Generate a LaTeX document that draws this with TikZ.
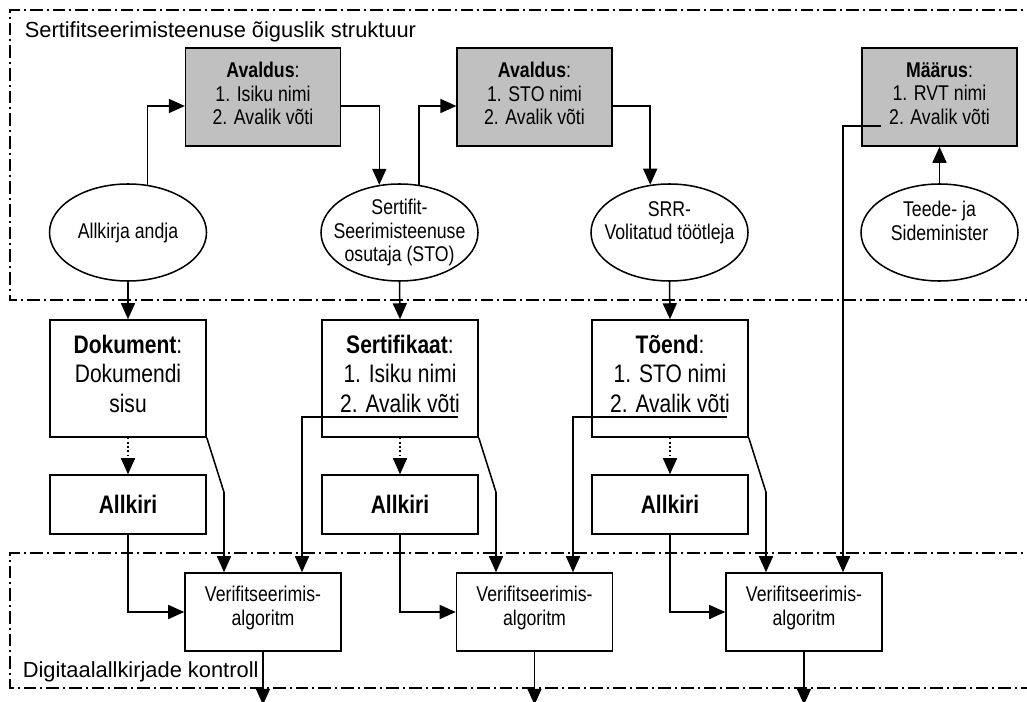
\documentclass[tikz,border=0pt]{standalone}
\usepackage{fontspec}
\setmainfont{Liberation Sans}
\newfontfamily\cf[FakeStretch=0.83]{Liberation Sans}
\usetikzlibrary{arrows.meta,shapes.geometric,calc}
\definecolor{boxgray}{RGB}{192,192,192}
\begin{document}
\begin{tikzpicture}[x=0.75pt,y=-0.75pt,line width=1.15pt,
 arr/.style={-{Triangle[length=12pt,width=10.5pt]}},
 frameline/.style={dash pattern=on 9.5pt off 3pt on 1.5pt off 3pt},
 small/.style={font=\cf\fontsize{16}{17.5}\selectfont},
 gbox/.style={draw,fill=boxgray,minimum width=116pt,minimum height=73.5pt,inner sep=0pt},
 ell/.style={draw,ellipse,minimum width=117.75pt,minimum height=72.75pt,inner sep=0pt},
 ellt/.style={align=center,small,inner sep=0pt},
 gtext/.style={align=center,small,inner sep=0pt,yshift=2.5pt},
 dbox/.style={draw,minimum width=117pt,minimum height=87.75pt,inner sep=0pt},
 dtext/.style={align=center,inner sep=0pt,yshift=3.5pt,font=\cf\fontsize{19}{22}\selectfont},
 abox/.style={draw,minimum width=117pt,minimum height=44.25pt,inner sep=1pt,font=\cf\bfseries\fontsize{19}{22}\selectfont},
 vbox/.style={draw,minimum width=117pt,minimum height=58.5pt,inner sep=0pt},
 vtext/.style={align=center,small,inner sep=0pt,yshift=3pt},
 lab/.style={font=\fontsize{16.4}{19}\selectfont,inner sep=0pt,anchor=base west},
]
\useasboundingbox (0,0) rectangle (1027,702);
% nodes
\node[gbox,label={[gtext]center:{\textbf{Avaldus}:\\1. Isiku nimi\\2. Avalik võti}}] (a1) at (263,97) {};
\node[gbox,label={[gtext]center:{\textbf{Avaldus}:\\1. STO nimi\\2. Avalik võti}}] (a2) at (534.5,97) {};
\node[gbox,label={[gtext]center:{\textbf{Määrus}:\\1. RVT nimi\\2. Avalik võti}}] (m) at (939.5,97) {};
\node[ell,label={[ellt]center:Allkirja andja}] (e1) at (128,232.5) {};
\node[ell,label={[ellt]center:{Sertifit-\\Seerimisteenuse\\osutaja (STO)}}] (e2) at (399.5,232.5) {};
\node[ell,label={[ellt]center:{SRR-\\Volitatud töötleja\\\mbox{}}}] (e3) at (669.5,232.5) {};
\node[ell,label={[ellt]center:{Teede- ja\\Sideminister\\\mbox{}}}] (e4) at (939.5,232.5) {};
\node[dbox,label={[dtext]center:{\textbf{Dokument}:\\Dokumendi\\sisu}}] (dok) at (128,378.5) {};
\node[dbox,label={[dtext]center:{\textbf{Sertifikaat}:\\1. Isiku nimi\\2. Avalik võti}}] (sert) at (400,378.5) {};
\node[dbox,label={[dtext]center:{\textbf{Tõend}:\\1. STO nimi\\2. Avalik võti}}] (toend) at (670,378.5) {};
\node[abox] (k1) at (128,504.5) {Allkiri};
\node[abox] (k2) at (400,504.5) {Allkiri};
\node[abox] (k3) at (670,504.5) {Allkiri};
\node[vbox,label={[vtext]center:{Verifitseerimis-\\algoritm}}] (v1) at (263,612) {};
\node[vbox,label={[vtext]center:{Verifitseerimis-\\algoritm}}] (v2) at (534.5,612) {};
\node[vbox,label={[vtext]center:{Verifitseerimis-\\algoritm}}] (v3) at (804,612) {};
\node[lab] (tl) at (24,38) {Sertifitseerimisteenuse õiguslik struktuur};
\node[lab] (bl) at (22,677) {Digitaalallkirjade kontroll};
\coordinate (su) at (458,417);
\coordinate (tu) at (727,417);
\coordinate (mu) at (881,126);
\coordinate (o1) at ($(v1.south)+(0,53)$);
\coordinate (o2) at ($(v2.south)+(0,53)$);
\coordinate (o3) at ($(v3.south)+(0,53)$);
\begin{scope}
\clip (0,0) rectangle (1027,702);
\draw[frameline] (1040,10) -- (10,10) -- (10,300) -- (1040,300);
\draw[frameline] (1040,553) -- (10,553) -- (10,688) -- (1040,688);
\draw[arr] (v1.south) -- (o1);
\draw[arr] (v2.south) -- (o2);
\draw[arr] (v3.south) -- (o3);
\end{scope}
% connectors
\draw[arr] (e1.68) |- ($(a1.west)+(0,9)$);
\draw[arr] ($(a1.east)+(0,9)$) -| (e2.113);
\draw[arr] (e2.68) |- ($(a2.west)+(0,9)$);
\draw[arr] ($(a2.east)+(0,9)$) -| (e3.112);
\draw[arr] (e4.north) -- (m.south);
\draw[arr] (mu) -| ($(v3.north)+(39,0)$);
\draw[arr] (e1.south) -- (dok.north);
\draw[arr] (e2.south) -- (sert.north);
\draw[arr] (e3.south) -- (toend.north);
\draw[arr,dotted] (dok.south) -- (k1.north);
\draw[arr,dotted] (sert.south) -- (k2.north);
\draw[arr,dotted] (toend.south) -- (k3.north);
\draw[arr] (dok.south east) -- ($(v1.north)+(-39,-80)$) -- ($(v1.north)+(-39,0)$);
\draw[arr] (k1.south) |- (v1.west);
\draw[arr] (su) -| ($(v1.north)+(39,0)$);
\draw[arr] (sert.south east) -- ($(v2.north)+(-38.5,-80)$) -- ($(v2.north)+(-38.5,0)$);
\draw[arr] (k2.south) |- (v2.west);
\draw[arr] (tu) -| ($(v2.north)+(38.5,0)$);
\draw[arr] (toend.south east) -- ($(v3.north)+(-38,-80)$) -- ($(v3.north)+(-38,0)$);
\draw[arr] (k3.south) |- (v3.west);
\end{tikzpicture}
\end{document}
